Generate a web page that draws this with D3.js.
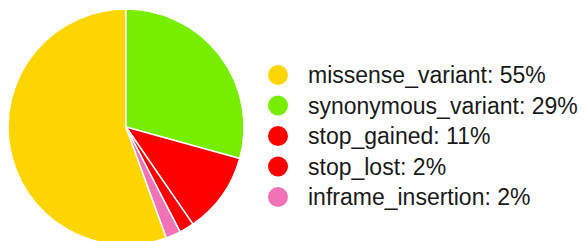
<!DOCTYPE html>
<html>
<head>
<meta charset="utf-8">
<script src="https://cdn.jsdelivr.net/npm/d3@7"></script>
<style>
  body { margin: 0; background: #fff; }
  text { font-family: "Liberation Sans", Arial, sans-serif; }
</style>
</head>
<body>
<div id="chart"></div>
<script>
// legend order
var labels = ["missense_variant", "synonymous_variant", "stop_gained", "stop_lost", "inframe_insertion"];
var values = [55, 29, 11, 2, 2];
var colors = ["#ffd500", "#77ee00", "#ff0000", "#ff0000", "#f272b8"];
// order of slices clockwise from 12 o'clock
var pieOrder = [1, 2, 3, 4, 0];

var width = 588;
var height = 241;

var svg = d3.select('#chart')
    .append('svg')
        .attr('width', width)
        .attr('height', height)
        .style('background', '#fff');

var radius = 118;
var g = svg.append('g')
    .attr('transform', 'translate(126,127)');

var pie = d3.pie()
    .sort(function(a, b) { return pieOrder.indexOf(a) - pieOrder.indexOf(b); })
    .value(function(i) { return values[i]; });

var arc = d3.arc().innerRadius(0).outerRadius(radius);

g.selectAll('path')
    .data(pie(d3.range(labels.length)))
    .enter()
    .append('path')
        .attr('d', arc)
        .attr('fill', function(d) { return colors[d.data]; })
        .attr('stroke', '#fff')
        .attr('stroke-width', 1.5);

// legend
var legend = svg.append('g')
    .attr('transform', 'translate(278,75)');

var rows = legend.selectAll('g')
    .data(d3.range(labels.length))
    .enter()
    .append('g')
        .attr('transform', function(i) { return 'translate(0,' + (i * 30.5) + ')'; });

rows.append('circle')
    .attr('r', 10)
    .attr('fill', function(i) { return colors[i]; });

rows.append('text')
    .attr('x', 30)
    .attr('dy', '0.35em')
    .style('font-size', '23px')
    .attr('fill', '#1a1a1a')
    .text(function(i) { return labels[i] + ': ' + values[i] + '%'; });
</script>
</body>
</html>
